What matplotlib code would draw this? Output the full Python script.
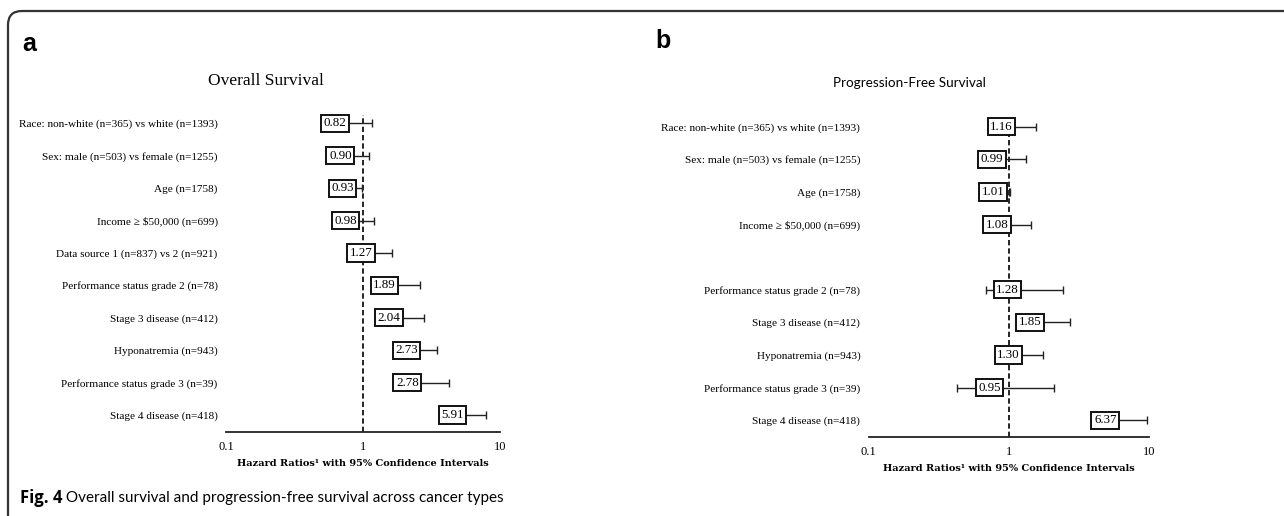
import numpy as np
import matplotlib
matplotlib.use("Agg")
import matplotlib.pyplot as plt
from matplotlib.patches import FancyBboxPatch

# ---------------- data ----------------
os_labels = ["Race: non-white (n=365) vs white (n=1393)",
             "Sex: male (n=503) vs female (n=1255)",
             "Age (n=1758)",
             "Income \u2265 $50,000 (n=699)",
             "Data source 1 (n=837) vs 2 (n=921)",
             "Performance status grade 2 (n=78)",
             "Stage 3 disease (n=412)",
             "Hyponatremia (n=943)",
             "Performance status grade 3 (n=39)",
             "Stage 4 disease (n=418)"]
os_hr = [0.82, 0.90, 0.93, 0.98, 1.27, 1.89, 2.04, 2.73, 2.78, 5.91]
os_lo = [0.58, 0.73, 0.87, 0.80, 0.98, 1.37, 1.49, 2.16, 1.82, 4.39]
os_hi = [1.16, 1.11, 0.99, 1.20, 1.64, 2.61, 2.79, 3.45, 4.25, 7.95]

pfs_labels = ["Race: non-white (n=365) vs white (n=1393)",
              "Sex: male (n=503) vs female (n=1255)",
              "Age (n=1758)",
              "Income \u2265 $50,000 (n=699)",
              "",
              "Performance status grade 2 (n=78)",
              "Stage 3 disease (n=412)",
              "Hyponatremia (n=943)",
              "Performance status grade 3 (n=39)",
              "Stage 4 disease (n=418)"]
pfs_hr = [1.16, 0.99, 1.01, 1.08, np.nan, 1.28, 1.85, 1.30, 0.95, 6.37]
pfs_lo = [0.86, 0.74, 1.00, 0.81, np.nan, 0.685, 1.26, 0.97, 0.425, 4.18]
pfs_hi = [1.56, 1.33, 1.02, 1.44, np.nan, 2.42, 2.71, 1.74, 2.10, 9.70]

x_ticks = [0.1, 1, 10]
x_ticklabels = ["0.1", "1", "10"]
xlabel = "Hazard Ratios\u00b9 with 95% Confidence Intervals"
titles = ["Overall Survival", "Progression-Free Survival"]
caption_bold = "Fig. 4"
caption_rest = " Overall survival and progression-free survival across cancer types"

# ---------------- figure ----------------
W, H = 1284, 516
fig = plt.figure(figsize=(W / 100, H / 100), dpi=100)

SERIF = "Liberation Serif"


def panel(rect, labels, hr, lo, hi, top_pad, bot_pad):
    ax = fig.add_axes(rect)
    n = len(labels)
    y = np.arange(n)
    hr = np.asarray(hr, float)
    lo = np.asarray(lo, float)
    hi = np.asarray(hi, float)
    ok = ~np.isnan(hr)
    ax.set_xscale("log")
    ax.set_xlim(0.1, 10)
    ax.set_ylim(n - 1 + bot_pad, -top_pad)
    ax.axvline(1, color="black", lw=1.2, ls=(0, (3.2, 1.8)), zorder=1)
    ax.errorbar(hr[ok], y[ok], xerr=[hr[ok] - lo[ok], hi[ok] - hr[ok]],
                fmt="none", ecolor="#222222", elinewidth=1.0, capsize=3.2,
                capthick=1.0, zorder=2)
    for yi, v in zip(y[ok], hr[ok]):
        ax.annotate(f"{v:.2f}", xy=(v, yi), xytext=(-3.6, 0),
                    textcoords="offset points", ha="right", va="center",
                    fontsize=9.4, family=SERIF, zorder=5,
                    bbox=dict(boxstyle="square,pad=0.2", fc="white",
                              ec="#111111", lw=1.4))
    ax.set_yticks(y)
    ax.set_yticklabels(labels, family=SERIF, fontsize=8.1)
    ax.set_xticks(x_ticks)
    ax.set_xticklabels(x_ticklabels, family=SERIF, fontsize=9)
    ax.xaxis.set_minor_locator(matplotlib.ticker.NullLocator())
    ax.tick_params(axis="both", length=0)
    ax.tick_params(axis="x", pad=7)
    ax.tick_params(axis="y", pad=6)
    for s in ["top", "left", "right"]:
        ax.spines[s].set_visible(False)
    ax.spines["bottom"].set_linewidth(1.3)
    ax.spines["bottom"].set_color("#222222")
    ax.set_xlabel(xlabel, family="DejaVu Serif", fontweight="bold",
                  fontsize=7.0, labelpad=4)
    ax.patch.set_alpha(0)
    return ax


def frac_rect(x0, x1, ytop, ybot):
    return [x0 / W, 1 - ybot / H, (x1 - x0) / W, (ybot - ytop) / H]


ax1 = panel(frac_rect(226, 500, 115, 431.7), os_labels, os_hr, os_lo, os_hi,
            0.256, 0.515)
ax2 = panel(frac_rect(868.7, 1149, 120, 436.7), pfs_labels, pfs_hr, pfs_lo,
            pfs_hi, 0.205, 0.503)

# titles
fig.text(266 / W, 1 - 81 / H, titles[0], family=SERIF, fontsize=12.5,
         ha="center", va="center")
fig.text(909 / W, 1 - 83 / H, titles[1], family="Lato", fontsize=9.7,
         ha="center", va="center")

# panel letters
fig.text(22 / W, 1 - 44 / H, "a", family="Liberation Sans", fontweight="bold",
         fontsize=18, ha="left", va="center")
fig.text(655 / W, 1 - 41 / H, "b", family="Liberation Sans", fontweight="bold",
         fontsize=18, ha="left", va="center")

# frame (rounded corner top-left, open at right/bottom)
frame = FancyBboxPatch((8 / 100, -0.5), (W + 100) / 100, (H - 11) / 100 + 0.5,
                       boxstyle="round,pad=0,rounding_size=0.14",
                       transform=fig.dpi_scale_trans, fc="none",
                       ec="#333333", lw=1.6, clip_on=False)
fig.patches.append(frame)

# caption
t1 = fig.text(20 / W, 1 - 498 / H, caption_bold, family="Open Sans",
              fontweight="bold", fontsize=12, ha="left", va="center")
fig.canvas.draw()
bb = t1.get_window_extent(renderer=fig.canvas.get_renderer())
fig.text(bb.x1 / W, 1 - 498 / H, caption_rest, family="Lato",
         fontsize=11.0, ha="left", va="center")

fig.savefig("out.png", dpi=100)
